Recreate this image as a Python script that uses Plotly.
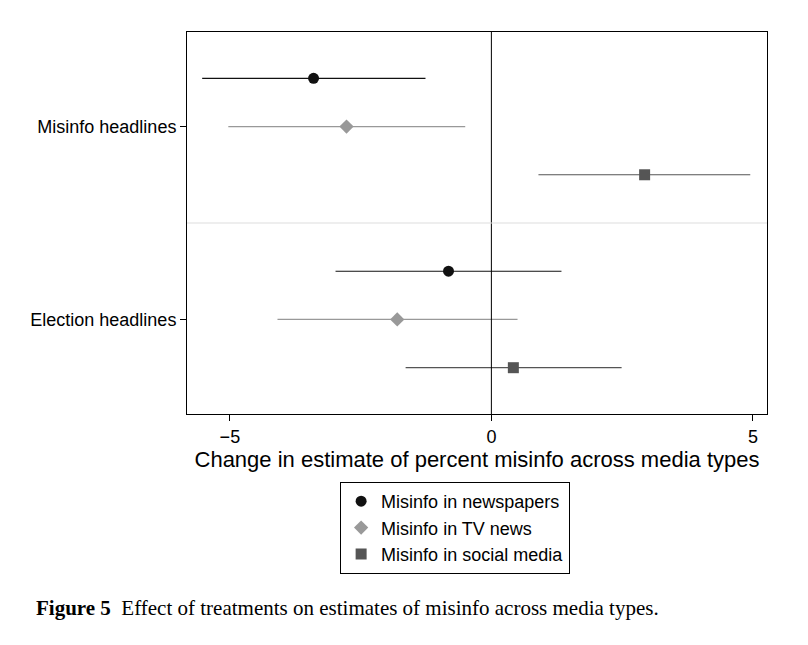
import plotly.graph_objects as go

# estimates
groups = ["Misinfo headlines", "Election headlines"]
group_pos = [1, 0]
series = ["Misinfo in newspapers", "Misinfo in TV news", "Misinfo in social media"]
offsets = [0.25, 0, -0.25]
est = [[-3.40, -0.82], [-2.77, -1.80], [2.93, 0.42]]
lo = [[-5.53, -2.98], [-5.03, -4.09], [0.90, -1.64]]
hi = [[-1.26, 1.34], [-0.50, 0.50], [4.95, 2.49]]
colors = ["#111111", "#999999", "#555555"]
symbols = ["circle", "diamond", "square"]

fig = go.Figure()
for i, name in enumerate(series):
    ys = [g + offsets[i] for g in group_pos]
    fig.add_trace(go.Scatter(
        x=est[i], y=ys, mode="markers", name=name,
        marker=dict(symbol=symbols[i], color=colors[i], size=11),
        error_x=dict(type="data", symmetric=False,
                     array=[h - e for h, e in zip(hi[i], est[i])],
                     arrayminus=[e - l for e, l in zip(est[i], lo[i])],
                     color=colors[i], thickness=1.2, width=0),
    ))

fig.add_shape(type="line", x0=0, x1=0, y0=0, y1=1, xref="x", yref="paper",
              line=dict(color="black", width=1))
fig.add_shape(type="line", x0=0, x1=1, y0=0.5, y1=0.5, xref="paper", yref="y",
              line=dict(color="#dddddd", width=1))

fig.add_annotation(text="<b>Figure 5</b>  Effect of treatments on estimates of misinfo across media types.",
                   x=-0.264, y=-0.508, xref="paper", yref="paper", xanchor="left", yanchor="middle",
                   showarrow=False, font=dict(family="Liberation Serif", size=21, color="black"))

fig.update_layout(
    width=808, height=645,
    margin=dict(l=179, r=49, t=24, b=239),
    plot_bgcolor="white", paper_bgcolor="white",
    font=dict(family="Liberation Sans", size=18, color="black"),
    xaxis=dict(range=[-5.82, 5.27], tickvals=[-5, 0, 5], ticktext=["\u22125", "0", "5"],
               showgrid=False, zeroline=False, showline=True, linecolor="black", mirror=True,
               ticks="outside", ticklen=6, tickcolor="black",
               title=dict(text="Change in estimate of percent misinfo across media types", standoff=4)),
    yaxis=dict(range=[-0.49, 1.49], tickvals=group_pos, ticktext=groups,
               showgrid=False, zeroline=False, showline=True, linecolor="black", mirror=True,
               ticks="outside", ticklen=6, tickcolor="black"),
    legend=dict(x=0.264, y=-0.178, xanchor="left", yanchor="top",
                bordercolor="black", borderwidth=1, font=dict(size=18)),
)

fig.write_html("out.html")
